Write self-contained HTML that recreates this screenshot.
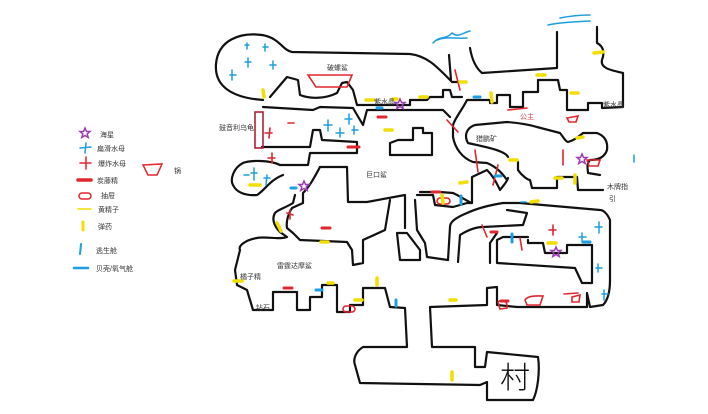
<!DOCTYPE html>
<html><head><meta charset="utf-8"><style>
html,body{margin:0;padding:0;background:#fff;width:708px;height:414px;overflow:hidden}
svg{display:block}
text{font-family:"Liberation Sans","Noto Sans CJK SC",sans-serif;font-size:7px;fill:#333}
</style></head><body>
<svg width="708" height="414" viewBox="0 0 708 414" xmlns="http://www.w3.org/2000/svg">
<defs>
<path id="st" d="M0,-5 L1.5,-1.5 L5,-1.5 L2.2,1 L3.2,4.5 L0,2.5 L-3.2,4.5 L-2.2,1 L-5,-1.5 L-1.5,-1.5 Z"/>
</defs>
<g fill="none" stroke="#111" stroke-width="2.2" stroke-linejoin="round" stroke-linecap="round">
<path d="M263,100 C235,98 214,88 216,64 C218,40 240,32 262,35 C280,38 282,50 292,52 L410,54 C428,56 438,68 452,82 L462,82"/>
<path d="M449,55 L451,80"/>
<path d="M470,48 C472,60 476,68 482,73 L557,68 L557,32"/>
<path d="M597,27 L597,43 C603,46 605,52 602,60 C600,68 610,70 623,73 L623,107 L602,108 L602,103 L588,103 L588,110 L567,110 L567,90 L560,90 L558,80 L538,80 L538,92 L523,92 L523,107 L510,107 L510,95 L497,95 L497,103 L490,103 L490,100 L467,100 C462,110 455,118 453,125 L453,137 C455,148 462,158 473,162 L487,163 C494,166 500,170 507,180"/>
<path d="M270,97 L287,77 L298,80 L300,95 C310,99 325,99 337,93 L342,83 L347,82 L353,90 L357,105 L410,105 L410,100 L427,100 L430,97 L443,97 L443,90 L450,90 L452,97 L462,97"/>
<path d="M263,107 L313,110 L320,107 L353,108 L363,125 L367,110 L443,110 L450,117"/>
<path d="M262,147 L310,147 L313,130 L320,130 L322,140 L357,142 L357,152"/>
<path d="M390,155 L390,143 L398,140 L413,140 L413,128 L423,128 L423,133 L432,133 L432,155 Z"/>
<path d="M508,157 C505,150 480,146 468,143 C464,136 466,128 475,125 L507,122 C520,123 530,125 537,127 L560,133 C564,138 566,142 568,142 C575,140 578,137 583,133 L597,133 C605,136 608,142 607,150 C605,156 600,160 590,160 C586,164 588,170 588,173 L600,175"/>
<path d="M518,162 L518,170 C522,176 528,180 530,180 L532,188 L557,188 L557,177 L577,177 L578,190 L603,190"/>
<path d="M420,192 L440,192 L453,193 C460,196 468,202 472,203 L472,177 L487,170 C495,178 498,186 500,190 C503,186 507,182 508,178"/>
<path d="M280,165 L308,165 L310,153 L357,153"/>
<path d="M280,165 C270,160 250,160 243,163 C233,168 230,180 233,185 C236,192 245,196 257,195 C265,190 270,180 283,175"/>
<path d="M320,167 L347,167 L348,202 L367,202 L405,195 L405,228"/>
<path d="M417,195 L433,195 L435,205 L453,207 L467,203 L472,203"/>
<path d="M320,167 C314,178 310,186 303,193 L303,203 L292,208 C288,214 286,222 287,228 L293,233 L300,240 L347,242 L352,250 L353,265 L363,263 L363,240 L385,230 L390,200"/>
<path d="M295,195 L293,203 C285,208 277,210 275,213 C272,218 273,225 280,232 L287,237 C280,240 265,236 257,238 C245,240 238,246 240,250 L235,270 L237,285 L247,290 L253,310 L273,310 L273,292 L297,292 L297,310 L310,310 L310,297 L322,297 L322,285 L337,285 L337,312 L350,312 L350,305 L363,305 L363,288 L385,288 L390,307 L405,308 L407,347 L363,347 C355,352 353,360 355,365 L360,383 L480,385 L487,382 L487,400 L533,400 C538,390 540,370 538,357 L487,352 L485,367 L475,367 L475,347 L432,347 L430,307 L487,305 L487,288 L497,287 L497,305 L517,307 L587,307 L587,293 L590,307 L603,305 C608,300 610,290 610,280 L610,220 C607,213 603,210 600,210 L520,203 L503,203 C490,205 478,208 467,213 C455,218 450,222 450,227 L448,260"/>
<path d="M458,262 L460,235 C468,230 475,227 483,227 L523,225 L527,213 L507,210"/>
<path d="M528,240 L528,243 L543,243 L545,253 L567,253 L567,245 L592,245 L592,283 L582,283 L575,268 L497,263 L497,240 L503,237 L528,237"/>
<path d="M490,263 L490,243 L497,233"/>
<path d="M397,233 L400,260 L420,260 L420,250 L407,233 Z"/>
<path d="M415,200 L417,230 L425,243 L427,257 L448,260"/>
</g>
<g stroke="#e0262e" stroke-width="1.6" fill="none" stroke-linecap="round">
<rect x="255" y="112" width="8" height="36" stroke="#b0203a"/>
<path d="M455,70 L460,90 M447,120 L458,132 M475,150 L478,172 M498,165 L493,185 M508,110 L527,108 M563,150 L563,165 M482,225 L487,237 M520,238 L522,250"/>
<path d="M308,75 L352,75 L347,87 L316,87 Z"/>
<path d="M567,118 L578,116 L576,122 L569,122 Z M587,160 L600,160 L598,166 L589,166 Z"/>
<path d="M265,133 L272,133 M270,128 L269,138 M288,123 L294,123 M268,158 L275,158 M272,153 L272,163 M549,230 L556,230 M553,225 L553,235 M287,213 L293,215 M290,210 L290,219"/>
<path d="M525,300 C528,295 538,296 543,296 L540,305 L527,305 Z M498,302 C503,298 508,302 507,308 L500,309 Z M572,297 L580,295 L579,302 L572,302 Z M564,294 L578,293"/>
<rect x="343" y="306" width="12" height="6" rx="3"/><rect x="437" y="198" width="13" height="6" rx="3"/>
</g>
<g stroke="#e0262e" stroke-width="3" stroke-linecap="round">
<path d="M378,117 L386,117 M322,228 L330,228 M284,288 L292,288 M432,192 L440,192 M501,301 L508,301 M348,147 L359,147 M491,232 L497,232"/>
</g>
<g stroke="#f2de00" stroke-width="3.5" stroke-linecap="round">
<path d="M263,90 L264,97 M366,100 L374,100 M420,97 L427,97 M594,53 L603,52 M537,75 L545,75 M571,93 L578,93 M460,82 L466,82 M491,93 L492,102 M393,99 L397,99 M385,130 L392,130 M250,185 L260,185 M460,183 L467,182 M510,160 L517,160 M555,178 L562,178 M577,138 L583,137 M575,175 L575,183 M442,195 L443,203 M531,202 L538,201 M548,243 L556,243 M328,283 L333,283 M355,300 L362,300 M377,278 L377,285 M450,300 L456,300 M452,372 L452,380 M277,223 L281,231 M321,242 L328,242 M234,281 L242,281"/>
</g>
<g stroke="#1d9ee0" stroke-width="1.5" fill="none" stroke-linecap="round">
<path d="M433,43 C440,35 446,40 452,33 C458,38 462,33 470,31 M437,40 C447,36 455,39 467,38"/>
<path d="M548,25 C560,22 575,22 590,21 M560,18 C570,16 578,15 590,15"/>
<path d="M245,45 L249,45 M247,43 L247,49 M263,47 L268,47 M265,44 L265,51 M230,75 L236,75 M232,70 L232,80 M245,62 L251,62 M248,58 L248,67 M270,65 L276,65 M273,61 L273,69 M324,125 L332,125 M328,120 L328,131 M345,119 L352,119 M349,114 L349,124 M336,133 L344,133 M340,128 L340,137 M352,130 L358,130 M354,126 L354,134 M251,173 L257,173 M254,168 L254,180 M264,178 L270,178 M267,175 L266,185 M244,175 L249,175 M595,227 L602,227 M599,222 L599,233 M596,268 L602,268 M598,264 L598,272 M579,237 L586,237 M582,233 L582,241 M602,294 L608,294 M604,290 L604,300 M634,155 L634,162 M521,202 L526,202"/>
</g>
<g stroke="#1d9ee0" stroke-width="3" stroke-linecap="round">
<path d="M474,97 L480,97 M291,188 L296,188 M377,108 L382,108 M461,196 L461,204 M396,300 L396,306 M316,290 L322,290 M495,176 L501,176 M583,242 L590,242 M512,234 L512,242"/>
</g>
<g fill="none" stroke="#9a3bb0" stroke-width="1.5">
<use href="#st" x="400" y="104"/><use href="#st" x="582" y="159"/><use href="#st" x="304" y="186"/><use href="#st" x="556" y="252"/><use href="#st" x="85" y="133"/>
</g>
<g stroke-linecap="round">
<path d="M80,148 L91,147 M86,143 L85,153" stroke="#1d9ee0" stroke-width="1.5"/>
<path d="M80,163 L91,163 M86,157 L86,169" stroke="#e0262e" stroke-width="1.5"/>
<path d="M78,180 L91,180" stroke="#e0262e" stroke-width="3.5"/>
<rect x="79" y="193" width="12" height="6" rx="3" fill="none" stroke="#e0262e" stroke-width="1.5"/>
<path d="M78,209 L91,209" stroke="#f2de00" stroke-width="1.5"/>
<path d="M83,222 L83,230" stroke="#f2de00" stroke-width="3"/>
<path d="M81,244 L80,254" stroke="#1d9ee0" stroke-width="2"/>
<path d="M74,268 L88,268" stroke="#1d9ee0" stroke-width="2.5"/>
<path d="M143,165 L162,164 L157,175 L148,175 Z" fill="none" stroke="#e0262e" stroke-width="1.5"/>
</g>
<text x="100" y="137">海星</text><text x="97" y="151">扁滑水母</text><text x="98" y="166">爆炸水母</text><text x="97" y="183">炭藤精</text><text x="101" y="198">抽屉</text><text x="98" y="212">黄精子</text><text x="98" y="229">弹药</text><text x="96" y="253">逃生舱</text><text x="96" y="271">贝壳/氧气舱</text><text x="174" y="173">锅</text>
<text x="327" y="70">破螺鲨</text><text x="374" y="104">紫水晶</text><text x="219" y="130">鼓音利乌龟</text><text x="366" y="177">巨口鲨</text>
<text x="520" y="119" style="fill:#d04040">公主</text><text x="476" y="141">猎鹏矿</text><text x="603" y="107">紫水晶</text>
<text x="607" y="189">木牌指</text><text x="609" y="201">引</text>
<text x="277" y="268">雷霆达摩鲨</text><text x="240" y="279">橘子精</text><text x="256" y="310">钻石</text>
<text x="500" y="388" style="font-size:30px;fill:#111;font-family:'Noto Sans CJK SC',sans-serif;font-weight:300">村</text>
</svg>
</body></html>
